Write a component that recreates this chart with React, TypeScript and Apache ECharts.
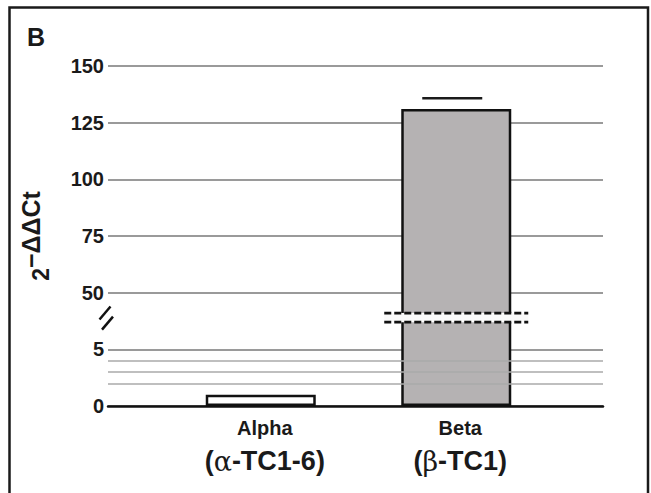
import React, { useEffect, useRef } from 'react';
import * as echarts from 'echarts';

// ---------- data ----------
const categories = ['Alpha', 'Beta'];
const cellLines = ['(α-TC1-6)', '(β-TC1)'];
const values = [1.0, 131];
const errors = [0, 4.8];
const yTickValues = [0, 5, 50, 75, 100, 125, 150];
const minorGridValues = [2, 3, 4];
const breakRange = [5, 50];
const panelLabel = 'B';
const yTitleBase = '2';
const yTitleSup = '−ΔΔCt';

// ---------- styles ----------
const FONT = '"Liberation Sans", Arial, Helvetica, sans-serif';
const TEXT = '#1a1a1a';
const BAR_COLORS = ['#ffffff', '#b5b2b3'];
const BAR_WIDTH = 110;
const BREAK_GAP = [0.48, 0.64]; // fraction of the break segment left blank

// map a data value onto the piecewise (broken) axis
function toAxis(v: number): number {
  const n = yTickValues.length;
  for (let i = 0; i < n - 1; i++) {
    const a = yTickValues[i];
    const b = yTickValues[i + 1];
    if (v <= b || i === n - 2) return i + (v - a) / (b - a);
  }
  return 0;
}
const breakIndex = yTickValues.indexOf(breakRange[0]);

export default function App() {
  const ref = useRef<HTMLDivElement>(null);
  useEffect(() => {
    if (!ref.current) return;
    const chart = echarts.init(ref.current, null, { renderer: 'svg' });
    const yMax = yTickValues.length - 1;

    const greekSplit = (s: string) =>
      s
        .split(/([α-ωΑ-Ω])/)
        .filter((p) => p.length)
        .map((p) => (/[α-ωΑ-Ω]/.test(p) ? `{g|${p}}` : `{b|${p}}`))
        .join('');

    const option: any = {
      animation: false,
      backgroundColor: '#ffffff',
      graphic: [
        {
          type: 'rect',
          shape: { x: 9.5, y: 7.5, width: 638.5, height: 520 },
          style: { fill: 'none', stroke: '#1a1a1a', lineWidth: 2.5 },
          silent: true,
        },
        {
          type: 'text',
          x: 27,
          y: 36.5,
          style: {
            text: panelLabel,
            font: `bold 25px ${FONT}`,
            fill: TEXT,
            textVerticalAlign: 'middle',
          },
        },
      ],
      grid: [
        { left: 108, top: 66, width: 495, height: 340 },
        { left: 163, top: 66, width: 391, height: 340 },
      ],
      xAxis: [
        {
          gridIndex: 0,
          type: 'category',
          data: categories,
          axisLabel: { show: false },
          axisTick: { show: false },
          axisLine: { lineStyle: { color: '#111111', width: 2.5 } },
          z: 5,
        },
        {
          gridIndex: 1,
          type: 'category',
          data: categories,
          axisLine: { show: false },
          axisTick: { show: false },
          axisLabel: {
            margin: 8,
            padding: [0, 0, 0, 8],
            formatter: (v: string) => {
              const i = categories.indexOf(v);
              return `{a|${v}}\n${greekSplit(cellLines[i])}`;
            },
            rich: {
              a: { fontFamily: FONT, fontWeight: 'bold', fontSize: 20, color: TEXT, lineHeight: 27 },
              b: { fontFamily: FONT, fontWeight: 'bold', fontSize: 27, color: TEXT, lineHeight: 40 },
              g: { fontFamily: '"DejaVu Serif", serif', fontWeight: 'normal', fontSize: 27, color: TEXT, lineHeight: 40 },
            },
          },
        },
      ],
      yAxis: [
        {
          gridIndex: 0,
          type: 'value',
          min: 0,
          max: yMax,
          interval: 1,
          axisLine: { show: false },
          axisTick: { show: false },
          axisLabel: {
            margin: 4,
            formatter: (v: number) => String(yTickValues[Math.round(v)]),
            fontFamily: FONT,
            fontWeight: 'bold',
            fontSize: 20,
            color: TEXT,
          },
          splitLine: { lineStyle: { color: '#9a9a9a', width: 2 } },
          name: `{b|${yTitleBase}}{s|${yTitleSup}}`,
          nameLocation: 'middle',
          nameRotate: 90,
          nameGap: 56,
          nameTextStyle: {
            rich: {
              b: { fontFamily: FONT, fontWeight: 'bold', fontSize: 23, color: TEXT, lineHeight: 34, verticalAlign: 'bottom' },
              s: { fontFamily: FONT, fontWeight: 'bold', fontSize: 25, color: TEXT, lineHeight: 34, verticalAlign: 'top' },
            },
          },
        },
        {
          gridIndex: 1,
          type: 'value',
          min: 0,
          max: yMax,
          interval: 1,
          show: false,
        },
      ],
      series: [
        {
          // axis break marks + minor grid lines (background grid)
          type: 'custom',
          xAxisIndex: 0,
          yAxisIndex: 0,
          z: 1,
          silent: true,
          clip: false,
          data: [[0, breakIndex + (BREAK_GAP[0] + BREAK_GAP[1]) / 2]],
          renderItem: (params: any, api: any) => {
            const cs = params.coordSys;
            const yLo = api.coord([0, breakIndex + BREAK_GAP[0]])[1];
            const yHi = api.coord([0, breakIndex + BREAK_GAP[1]])[1];
            const mk = (cx: number, cy: number) => ({
              type: 'line',
              shape: { x1: cx - 5.5, y1: cy + 6.5, x2: cx + 5.5, y2: cy - 6.5 },
              style: { stroke: '#111111', lineWidth: 2.5 },
            });
            return {
              type: 'group',
              children: [mk(cs.x - 3, yHi), mk(cs.x - 0.5, yLo + 1)],
            };
          },
          markLine: {
            silent: true,
            symbol: ['none', 'none'],
            label: { show: false },
            lineStyle: { color: '#aaaaaa', width: 1.5, type: 'solid' },
            data: minorGridValues.map((v) => ({ yAxis: toAxis(v) })),
          },
        },
        {
          type: 'bar',
          xAxisIndex: 1,
          yAxisIndex: 1,
          z: 3,
          barWidth: BAR_WIDTH,
          data: values.map((v, i) => ({
            value: toAxis(v),
            itemStyle: { color: BAR_COLORS[i], borderColor: '#111111', borderWidth: 2.5 },
          })),
        },
        {
          // break band across bars that cross the axis break
          type: 'custom',
          xAxisIndex: 1,
          yAxisIndex: 1,
          z: 4,
          silent: true,
          data: values
            .map((v, i) => [i, v])
            .filter((d) => d[1] > breakRange[1]),
          renderItem: (params: any, api: any) => {
            const idx = api.value(0);
            const x = api.coord([idx, 0])[0];
            const yLo = api.coord([idx, breakIndex + BREAK_GAP[0]])[1];
            const yHi = api.coord([idx, breakIndex + BREAK_GAP[1]])[1];
            const hw = BAR_WIDTH / 2 + 17;
            const dash = { stroke: '#111111', lineWidth: 2.8, lineDash: [7, 3] };
            return {
              type: 'group',
              children: [
                { type: 'rect', shape: { x: x - hw, y: yHi, width: 2 * hw, height: yLo - yHi }, style: { fill: '#fafafa' } },
                { type: 'line', shape: { x1: x - hw, y1: yHi, x2: x + hw, y2: yHi }, style: dash },
                { type: 'line', shape: { x1: x - hw, y1: yLo, x2: x + hw, y2: yLo }, style: dash },
              ],
            };
          },
        },
        {
          // error bar caps
          type: 'custom',
          xAxisIndex: 1,
          yAxisIndex: 1,
          z: 4,
          silent: true,
          data: values
            .map((v, i) => [i, toAxis(v + errors[i]), errors[i]])
            .filter((d) => d[2] > 0),
          renderItem: (params: any, api: any) => {
            const p = api.coord([api.value(0), api.value(1)]);
            return {
              type: 'line',
              shape: { x1: p[0] - 34, y1: p[1], x2: p[0] + 26, y2: p[1] },
              style: { stroke: '#1a1a1a', lineWidth: 2.5 },
            };
          },
        },
      ],
    };
    chart.setOption(option);
    return () => chart.dispose();
  }, []);
  return (
    <div
      ref={ref}
      style={{ position: 'fixed', left: 0, top: 0, width: 651, height: 493, background: '#fff' }}
    />
  );
}
